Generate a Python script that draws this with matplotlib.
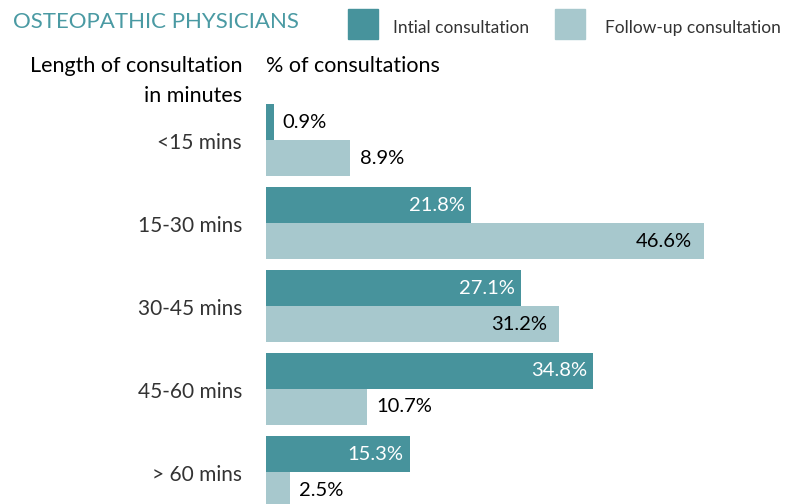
import numpy as np
import matplotlib.pyplot as plt
import matplotlib.transforms as mtransforms
from matplotlib.patches import Rectangle

plt.rcParams['font.family'] = ['Lato', 'DejaVu Sans']

# data
categories = ['<15 mins', '15-30 mins', '30-45 mins', '45-60 mins', '> 60 mins']
initial = [0.9, 21.8, 27.1, 34.8, 15.3]
follow_up = [8.9, 46.6, 31.2, 10.7, 2.5]
series_names = ['Intial consultation', 'Follow-up consultation']

dark = '#47939C'
light = '#A7C8CD'
title_col = '#4A9AA3'

W, H = 791, 504
fig = plt.figure(figsize=(W / 100, H / 100), dpi=100)

# axes from x=266px to the right edge, full height
ax = fig.add_axes([266 / W, 0, 1 - 266 / W, 1])
px_per_unit = 9.4      # pixels per percent
grp = 83.0             # pixels between groups
ax.set_xlim(0, (W - 266) / px_per_unit)
ax.set_ylim((H - 140) / grp, -140 / grp)
ax.axis('off')

h = 36 / grp
y = np.arange(len(categories))
ax.barh(y - h / 2, initial, height=h, color=dark)
ax.barh(y + h / 2, follow_up, height=h, color=light)

def shift(px):
    return ax.transData + mtransforms.ScaledTranslation(px / 100, 0, fig.dpi_scale_trans)

fs = 14.5
for i in range(len(categories)):
    v = initial[i]
    if v > 5:
        ax.text(v, y[i] - h / 2, f'{v}%', color='white', fontsize=fs,
                ha='right', va='center', transform=shift(-6))
    else:
        ax.text(v, y[i] - h / 2, f'{v}%', color='black', fontsize=fs,
                ha='left', va='center', transform=shift(8))
    v = follow_up[i]
    if v > 20:
        ax.text(v, y[i] + h / 2, f'{v}%', color='black', fontsize=fs,
                ha='right', va='center', transform=shift(-12))
    else:
        ax.text(v, y[i] + h / 2, f'{v}%', color='black', fontsize=fs,
                ha='left', va='center', transform=shift(10))

# category labels
lab_tr = mtransforms.blended_transform_factory(fig.transFigure, ax.transData)
for i, c in enumerate(categories):
    fig.text(242 / W, y[i] + 3 / grp, c, transform=lab_tr, ha='right', va='center',
             fontsize=15, color='#333333')

# headings
fig.text(13 / W, 1 - 22 / H, 'OSTEOPATHIC PHYSICIANS', color=title_col,
         fontsize=16, ha='left', va='center')
fig.text(242 / W, 1 - 66 / H, 'Length of consultation', fontsize=15.5,
         ha='right', va='center')
fig.text(242 / W, 1 - 96 / H, 'in minutes', fontsize=15.5,
         ha='right', va='center')
fig.text(266 / W, 1 - 66 / H, '% of consultations', fontsize=15.5,
         ha='left', va='center')

# legend
for x0, tx, col, name in [(348, 393, dark, series_names[0]),
                          (555, 605, light, series_names[1])]:
    fig.add_artist(Rectangle((x0 / W, 1 - 39 / H), 30 / W, 30 / H,
                             transform=fig.transFigure, color=col))
    fig.text(tx / W, 1 - 28 / H, name,
             fontsize=12.5, color='#333333', ha='left', va='center')

fig.savefig('out.png', dpi=100)
